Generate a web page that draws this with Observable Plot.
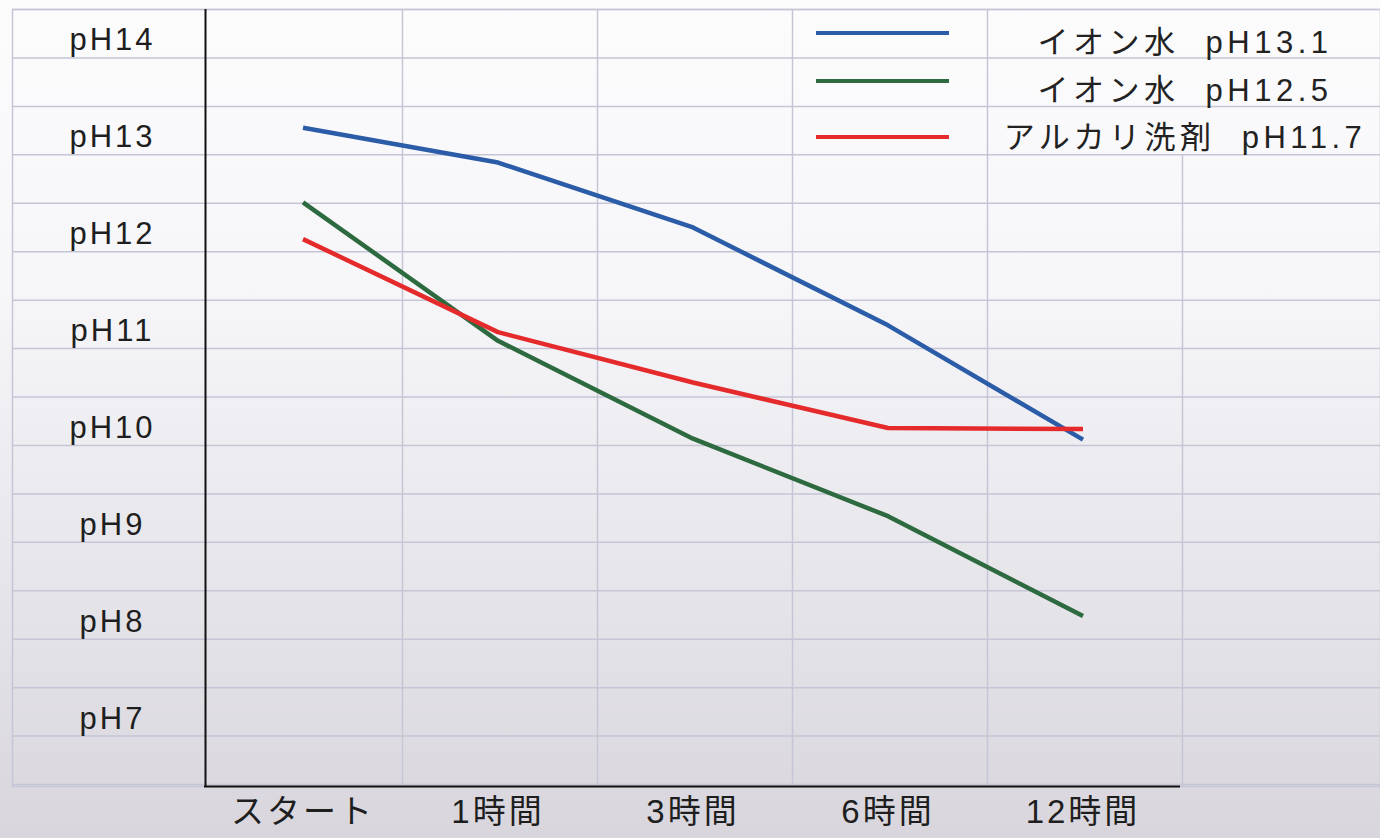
<!DOCTYPE html>
<html>
<head>
<meta charset="utf-8">
<script src="https://cdn.jsdelivr.net/npm/d3@7"></script>
<script src="https://cdn.jsdelivr.net/npm/@observablehq/plot@0.6"></script>
<style>
  html, body { margin: 0; padding: 0; }
  body { width: 1380px; height: 838px; overflow: hidden;
    background: linear-gradient(to bottom, #fcfcfd 0%, #f6f6f9 35%, #e8e7ec 65%, #d8d6dc 100%); }
  #wrap { position: relative; width: 1380px; height: 838px; }
  #chart svg { display: block; background: transparent; }
  #chart svg g[aria-label="text"] text { letter-spacing: 3px; }
  .legend { position: absolute; left: 0; top: 0; width: 1380px; height: 838px; pointer-events: none;
    font-family: "Liberation Sans", "Noto Sans CJK JP", sans-serif; color: #222; }
  .lg-line { position: absolute; left: 816px; width: 133px; height: 4px; }
  .lg-text { position: absolute; left: 990px; width: 390px; text-align: center; font-size: 31px;
    letter-spacing: 4.5px; white-space: pre; line-height: 31px; }
</style>
</head>
<body>
<div id="wrap">
  <div id="chart"></div>
  <div class="legend" id="legend"></div>
</div>
<script>
// ---- data ----
const categories = ["スタート", "1時間", "3時間", "6時間", "12時間"];
const seriesNames = ["イオン水  pH13.1", "イオン水  pH12.5", "アルカリ洗剤  pH11.7"];
const seriesColors = ["#2b5ca8", "#2d6a3f", "#e52a2c"];
const ionWater131 = [13.10, 12.74, 12.07, 11.06, 9.88];
const ionWater125 = [12.33, 10.90, 9.89, 9.09, 8.06];
const alkaliDetergent = [11.95, 10.99, 10.47, 10.00, 9.99];
const yTicks = [7, 8, 9, 10, 11, 12, 13, 14];

const seriesValues = [ionWater131, ionWater125, alkaliDetergent];
const table = seriesNames.flatMap((s, i) =>
  categories.map((c, j) => ({ series: s, time: c, ph: seriesValues[i][j] })));

// grid (styling): horizontal cell rows every 0.5 pH from the top edge
const yTop = 14.32, yBottom = 6.30;
const hGrid = d3.range(0, 17).map(k => yTop - 0.5 * k);
const gridColor = "#c5c5d6";
const plotLeft = 205, plotRight = 1180, W = 1380, mL = 12;
const bandW = (plotRight - plotLeft) / categories.length;

const chart = Plot.plot({
  width: W,
  height: 838,
  marginTop: 9,
  marginBottom: 52,
  marginLeft: mL,
  marginRight: 0,
  style: { fontFamily: '"Liberation Sans", "Noto Sans CJK JP", sans-serif', color: "#222", background: "transparent" },
  x: { type: "band", domain: categories, range: [plotLeft, plotRight], padding: 0, axis: null },
  y: { domain: [yBottom, yTop], axis: null },
  color: { domain: seriesNames, range: seriesColors },
  marks: [
    Plot.ruleY(hGrid, { y: d => d, stroke: gridColor, strokeWidth: 1.5 }),
    Plot.frame({ stroke: gridColor, strokeWidth: 1.5 }),
    // vertical cell borders (right edge of each band); the last is interrupted by the legend cells
    Plot.ruleX(categories.slice(0, 4), { x: d => d, dx: bandW / 2 + 2, stroke: gridColor, strokeWidth: 1.5 }),
    Plot.ruleX(categories.slice(4), { x: d => d, dx: bandW / 2 + 2, y1: () => yBottom, y2: () => yTop - 1.5, stroke: gridColor, strokeWidth: 1.5 }),
    // axis lines
    Plot.ruleX(categories.slice(0, 1), { x: d => d, dx: -bandW / 2, stroke: "#111", strokeWidth: 2 }),
    Plot.ruleY([yBottom], { y: d => d, insetLeft: plotLeft - mL - 1, insetRight: W - plotRight, stroke: "#111", strokeWidth: 2 }),
    // tick labels
    Plot.text(yTicks, { y: d => d, text: d => "pH" + d, frameAnchor: "left", dx: 100, textAnchor: "middle", fontSize: 31, fill: "#1e1e1e" }),
    Plot.text(categories, { x: d => d, text: d => d, frameAnchor: "bottom", dy: 36, dx: 0, fontSize: 33, fill: "#1e1e1e" }),
    // data lines
    Plot.line(table, { x: "time", y: "ph", z: "series", stroke: "series", strokeWidth: 4.5, strokeLinejoin: "round", strokeLinecap: "butt" })
  ]
});
document.getElementById("chart").appendChild(chart);

// legend (inside the grid, top right)
const legend = document.getElementById("legend");
const lineY = [31, 79, 135];
const textY = [27, 75, 122];
seriesNames.forEach((s, i) => {
  const l = document.createElement("div");
  l.className = "lg-line";
  l.style.top = lineY[i] + "px";
  l.style.background = seriesColors[i];
  legend.appendChild(l);
  const t = document.createElement("div");
  t.className = "lg-text";
  t.style.top = textY[i] + "px";
  t.textContent = s;
  legend.appendChild(t);
});
</script>
</body>
</html>
